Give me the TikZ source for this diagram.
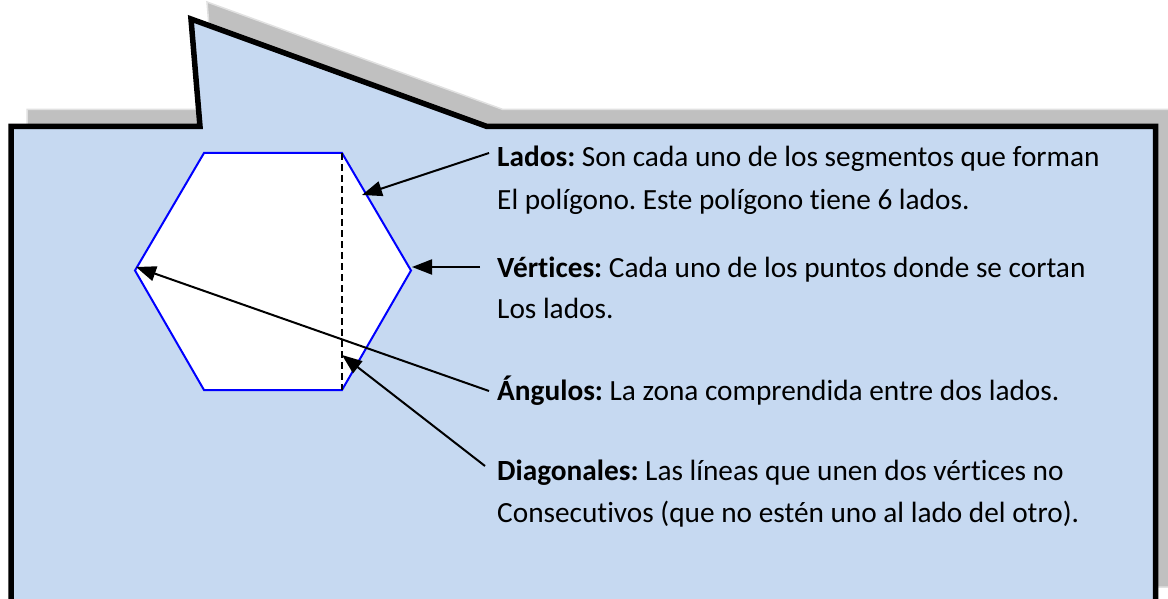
\documentclass[tikz,border=0pt]{standalone}
\usepackage{fontspec}
\setmainfont{Carlito}[Ligatures=NoCommon]
\usetikzlibrary{arrows.meta}
\definecolor{calloutfill}{RGB}{198,217,241}
\definecolor{shadowgray}{RGB}{192,192,192}
\definecolor{shadowedge}{RGB}{225,225,225}
\definecolor{hexblue}{RGB}{0,0,255}
\frenchspacing
\begin{document}
\begin{tikzpicture}[x=1pt,y=-1pt,
  callout/.style={fill=calloutfill, draw=black, line width=5.5pt, line join=miter, miter limit=10},
  shadowshape/.style={fill=shadowgray, draw=shadowedge, line width=1.5pt, line join=miter},
  hexside/.style={draw=hexblue, line width=2pt, fill=white, line join=miter},
  diagline/.style={draw=black, line width=1.6pt, dash pattern=on 7pt off 4pt},
  pointer/.style={draw=black, line width=2pt, -{Triangle[length=20pt,width=15pt]}},
  textline/.style={anchor=base west, inner sep=0pt, font=\fontsize{29.3}{35}\selectfont, text=black}]
\useasboundingbox (0,0) rectangle (1168,599);

% shadow of the callout
\path[shadowshape] (27,620) -- (27,109.5) -- (216,109.5) -- (207,2) -- (503,109.5) -- (1172,109.5) -- (1172,587) -- (27,587) -- cycle;

% callout
\path[callout] (11,610) -- (11,126.5) -- (200,126.5) -- (191,19) -- (487,126.5) -- (1155.5,126.5) -- (1155.5,610) -- cycle;

% hexagon
\coordinate (h1) at (204,153);
\coordinate (h2) at (342,153);
\coordinate (h3) at (411,270.5);
\coordinate (h4) at (342,390);
\coordinate (h5) at (204,390);
\coordinate (h6) at (135,270.5);
\path[hexside] (h1) -- (h2) -- (h3) -- (h4) -- (h5) -- (h6) -- cycle;
\draw[diagline] (h2) -- (h4);

% texts
\node[textline] (l1) at (497,167) {\textbf{Lados:} Son cada uno de los segmentos que forman};
\node[textline] (l2) at (497,209) {El polígono. Este polígono tiene 6 lados.};
\node[textline] (v1) at (497,277) {\textbf{Vértices:} Cada uno de los puntos donde se cortan};
\node[textline] (v2) at (497,318) {Los lados.};
\node[textline] (a1) at (497,400) {\textbf{Ángulos:} La zona comprendida entre dos lados.};
\node[textline] (d1) at (497,480) {\textbf{Diagonales:} Las líneas que unen dos vértices no};
\node[textline] (d2) at (497,522) {Consecutivos (que no estén uno al lado del otro).};

% pointer ends
\coordinate (ladosTail) at (489,153);
\coordinate (ladosHead) at (362,195);
\coordinate (vertTail) at (480,267);
\coordinate (vertHead) at (412,267);
\coordinate (angTail) at (489,391);
\coordinate (angHead) at (136,267);
\coordinate (diagTail) at (485,466);
\coordinate (diagHead) at (342,355);

\draw[pointer] (ladosTail) -- (ladosHead);
\draw[pointer] (vertTail) -- (vertHead);
\draw[pointer] (angTail) -- (angHead);
\draw[pointer] (diagTail) -- (diagHead);
\end{tikzpicture}
\end{document}
